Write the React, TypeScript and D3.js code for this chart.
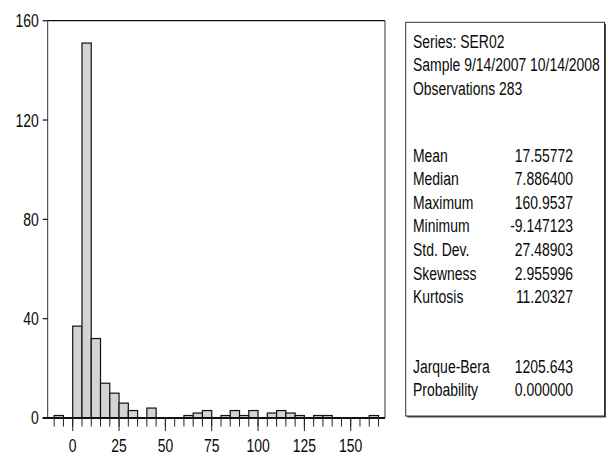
import React from "react";
import * as d3 from "d3";

// Histogram of SER02: bins of width 5 starting at -10
const binStarts = [-10, -5, 0, 5, 10, 15, 20, 25, 30, 35, 40, 45, 50, 55, 60, 65, 70, 75, 80, 85, 90, 95, 100, 105, 110, 115, 120, 125, 130, 135, 140, 145, 150, 155, 160];
const binCounts = [1, 0, 37, 151, 32, 14, 10, 6, 3, 0, 4, 0, 0, 0, 1, 2, 3, 0, 1, 3, 1, 3, 0, 2, 3, 2, 1, 0, 1, 1, 0, 0, 0, 0, 1];
const binWidth = 5;

const yTicks = [0, 40, 80, 120, 160];
const xMajorTicks = [0, 25, 50, 75, 100, 125, 150];
const xMinorTicks = d3.range(-10, 170, 5);

const headerLines = ["Series: SER02", "Sample 9/14/2007 10/14/2008", "Observations 283"];
const statLabels = ["Mean", "Median", "Maximum", "Minimum", "Std. Dev.", "Skewness", "Kurtosis"];
const statValues = ["17.55772", "7.886400", "160.9537", "-9.147123", "27.48903", "2.955996", "11.20327"];
const testLabels = ["Jarque-Bera", "Probability"];
const testValues = ["1205.643", "0.000000"];

const FONT = "'Liberation Sans', Arial, Helvetica, sans-serif";
const NARROW = 0.775;

type TProps = {
  x: number;
  y: number;
  anchor?: "start" | "middle" | "end";
  dy?: string;
  children: React.ReactNode;
};

// Condensed-looking label: regular sans squeezed horizontally around its anchor
function T({ x, y, anchor = "start", dy, children }: TProps) {
  return (
    <text
      transform={`translate(${x},${y}) scale(${NARROW},1)`}
      textAnchor={anchor}
      dy={dy}
      fill="#0a0a0a"
    >
      {children}
    </text>
  );
}

export default function App() {
  const W = 615;
  const H = 456;
  const left = 47.7;
  const right = 385;
  const top = 20.7;
  const bottom = 418;

  const x = d3.scaleLinear().domain([-13.5, 168.5]).range([left, right]);
  const y = d3.scaleLinear().domain([0, 160]).range([bottom, top]);

  const box = { x0: 405.7, y0: 22.3, x1: 604.5, y1: 416 };
  const textX = 413;
  const valX = 573;
  const headerY = (i: number) => 48 + i * 23.3;
  const statY = (i: number) => 161.5 + i * 23.6;
  const testY = (i: number) => 372.5 + i * 23.6;

  return (
    <svg
      width={W}
      height={H}
      style={{ position: "absolute", left: 0, top: 0, background: "#fff" }}
      fontFamily={FONT}
      fontSize={18}
    >
      {/* bars */}
      {binStarts.map((s, i) =>
        binCounts[i] > 0 ? (
          <rect
            key={s}
            x={x(s)}
            y={y(binCounts[i])}
            width={x(s + binWidth) - x(s)}
            height={y(0) - y(binCounts[i])}
            fill="#d3d3d3"
            stroke="#111"
            strokeWidth={1.2}
          />
        ) : null
      )}

      {/* frame */}
      <line x1={left} y1={top} x2={right} y2={top} stroke="#111" strokeWidth={1.3} />
      <line x1={left} y1={top} x2={left} y2={bottom} stroke="#333" strokeWidth={1} />
      <line x1={right} y1={top} x2={right} y2={bottom} stroke="#333" strokeWidth={1} />
      <line x1={left - 5} y1={bottom} x2={right} y2={bottom} stroke="#111" strokeWidth={2} />

      {/* y axis */}
      {yTicks.map((t) => (
        <g key={t}>
          <line x1={left - 5} x2={left} y1={y(t)} y2={y(t)} stroke="#111" strokeWidth={1.2} />
          <T x={left - 9} y={y(t)} dy="0.36em" anchor="end">
            {t}
          </T>
        </g>
      ))}

      {/* x axis */}
      {xMinorTicks.map((t) => (
        <line key={t} x1={x(t)} x2={x(t)} y1={bottom} y2={bottom + 8.5} stroke="#222" strokeWidth={1} />
      ))}
      {xMajorTicks.map((t) => (
        <g key={t}>
          <line x1={x(t)} x2={x(t)} y1={bottom} y2={bottom + 13} stroke="#222" strokeWidth={1} />
          <T x={x(t)} y={451.5} anchor="middle">
            {t}
          </T>
        </g>
      ))}

      {/* statistics box */}
      <rect x={box.x0 + 1.5} y={box.y0 + 1.5} width={box.x1 - box.x0} height={box.y1 - box.y0} fill="#444" />
      <rect x={box.x0} y={box.y0} width={box.x1 - box.x0} height={box.y1 - box.y0} fill="#fff" stroke="#333" strokeWidth={1} />
      {headerLines.map((t, i) => (
        <T key={t} x={textX} y={headerY(i)}>
          {t}
        </T>
      ))}
      {statLabels.map((t, i) => (
        <g key={t}>
          <T x={textX} y={statY(i)}>
            {t}
          </T>
          <T x={valX} y={statY(i)} anchor="end">
            {statValues[i]}
          </T>
        </g>
      ))}
      {testLabels.map((t, i) => (
        <g key={t}>
          <T x={textX} y={testY(i)}>
            {t}
          </T>
          <T x={valX} y={testY(i)} anchor="end">
            {testValues[i]}
          </T>
        </g>
      ))}
    </svg>
  );
}
